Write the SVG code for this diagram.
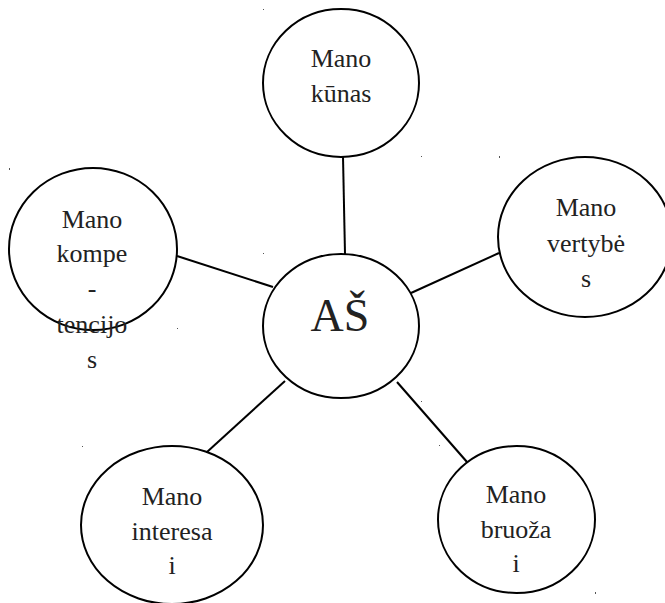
<svg xmlns="http://www.w3.org/2000/svg" width="665" height="603" viewBox="0 0 665 603">
<style>
.n{fill:#fff;stroke:#000;stroke-width:2}
.c{stroke:#000;stroke-width:2;fill:none}
.t{font-family:"Liberation Serif","Times New Roman",serif;font-size:26px;fill:#222;text-anchor:middle}
.big{font-size:46px}
.d{fill:#555}
</style>
<rect width="665" height="603" fill="#fff"/>
<g id="connectors">
<line class="c" x1="343" y1="157" x2="345" y2="254"/>
<line class="c" x1="177" y1="256" x2="273" y2="287"/>
<line class="c" x1="411" y1="293" x2="499" y2="253"/>
<line class="c" x1="207" y1="452" x2="285" y2="381"/>
<line class="c" x1="397" y1="382" x2="467" y2="462"/>
</g>
<g id="center">
<ellipse class="n" cx="341" cy="326" rx="78" ry="72"/>
<text class="t big" x="340" y="331">AŠ</text>
</g>
<g id="kunas">
<ellipse class="n" cx="341" cy="83" rx="78" ry="74"/>
<text class="t" x="341" y="67">Mano</text>
<text class="t" x="341" y="102">kūnas</text>
</g>
<g id="kompetencijos">
<ellipse class="n" cx="93" cy="249" rx="84" ry="81"/>
<text class="t" x="92" y="228">Mano</text>
<text class="t" x="92" y="262">kompe</text>
<text class="t" x="92" y="297">-</text>
<text class="t" x="92" y="333">tencijo</text>
<text class="t" x="92" y="368">s</text>
</g>
<g id="vertybes">
<ellipse class="n" cx="585" cy="237" rx="87" ry="80"/>
<text class="t" x="586" y="216">Mano</text>
<text class="t" x="586" y="252">vertybė</text>
<text class="t" x="586" y="287">s</text>
</g>
<g id="interesai">
<ellipse class="n" cx="172" cy="525" rx="91" ry="79"/>
<text class="t" x="172" y="505">Mano</text>
<text class="t" x="172" y="540">interesa</text>
<text class="t" x="172" y="574">i</text>
</g>
<g id="bruozai">
<ellipse class="n" cx="516.5" cy="519.5" rx="78.5" ry="73.5"/>
<text class="t" x="516" y="503">Mano</text>
<text class="t" x="516" y="538">bruoža</text>
<text class="t" x="516" y="572">i</text>
</g>
<g id="specks">
<rect class="d" x="9" y="168" width="1" height="2"/>
<rect class="d" x="177" y="328" width="1" height="1"/>
<rect class="d" x="263" y="253" width="1" height="1"/>
<rect class="d" x="499" y="156" width="1" height="2"/>
<rect class="d" x="263" y="9" width="1" height="1"/>
<rect class="d" x="421" y="156" width="1" height="1"/>
<rect class="d" x="82" y="446" width="1" height="1"/>
<rect class="d" x="421" y="401" width="1" height="1"/>
<rect class="d" x="439" y="445" width="1" height="1"/>
<rect class="d" x="595" y="592" width="1" height="2"/>
</g>
</svg>
